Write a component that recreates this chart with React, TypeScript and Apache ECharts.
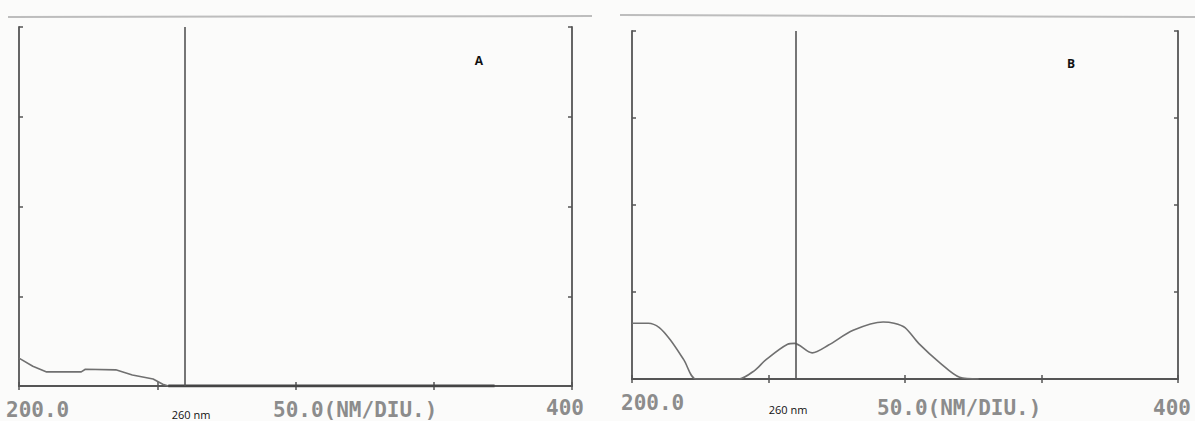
import React, { useEffect, useRef } from "react";
import * as echarts from "echarts";

// Wavelength axis (nm) and absorbance (arbitrary units)
const xTicksNm = [200, 250, 300, 350, 400];
const yDivisions = [0, 1, 2, 3, 4];

// Spectrum A: wavelength, absorbance
const spectrumAWavelength = [200, 205, 210, 222.5, 224, 235, 241, 248.5, 252, 254, 372];
const spectrumAValue = [0.31, 0.22, 0.157, 0.157, 0.187, 0.18, 0.123, 0.078, 0.02, 0, 0];

// Spectrum B: wavelength, absorbance
const spectrumBWavelength = [200, 206, 210, 214, 219, 223.5, 239, 245, 249, 257, 259.5, 266, 272, 281, 292, 296, 300, 305, 313, 320, 327];
const spectrumBValue = [0.64, 0.64, 0.59, 0.45, 0.22, 0, 0, 0.1, 0.22, 0.4, 0.41, 0.3, 0.39, 0.56, 0.655, 0.64, 0.59, 0.41, 0.18, 0.02, 0];

const markerNm = 260;
const panelLabels = ["A", "B"];
const axisStartLabel = "200.0";
const axisScaleLabel = "50.0(NM/DIU.)";
const axisEndLabel = "400";
const markerLabel = "260 nm";

const FRAME = "#555555";
const CURVE = "#707070";
const PRINT = "#8c8c8c";

export default function App() {
  const ref = useRef<HTMLDivElement>(null);
  useEffect(() => {
    if (!ref.current) return;
    const chart = echarts.init(ref.current, null, { renderer: "svg" });
    const grids = [
      { left: 19, top: 27, width: 553, height: 359 },
      { left: 632, top: 31, width: 546, height: 348 },
    ];
    const xAxes: any[] = [];
    const yAxes: any[] = [];
    grids.forEach((_, g) => {
      ["bottom", "top"].forEach((pos) => {
        xAxes.push({
          type: "value",
          gridIndex: g,
          position: pos,
          min: xTicksNm[0],
          max: xTicksNm[xTicksNm.length - 1],
          interval: 50,
          axisLine: { show: true, lineStyle: { color: FRAME, width: 1.8 } },
          axisTick: { show: true, inside: true, length: 4, lineStyle: { color: FRAME, width: 1.5 } },
          axisLabel: { show: false },
          splitLine: { show: false },
        });
      });
      ["left", "right"].forEach((pos) => {
        yAxes.push({
          type: "value",
          gridIndex: g,
          position: pos,
          min: yDivisions[0],
          max: yDivisions[yDivisions.length - 1],
          interval: 1,
          axisLine: { show: true, lineStyle: { color: FRAME, width: 1.8 } },
          axisTick: { show: true, inside: true, length: 4, lineStyle: { color: FRAME, width: 1.5 } },
          axisLabel: { show: false },
          splitLine: { show: false },
        });
      });
    });

    const pairs = (xs: number[], ys: number[]) => xs.map((x, i) => [x, ys[i]]);
    const aPairs = pairs(spectrumAWavelength, spectrumAValue);
    const firstZeroA = spectrumAValue.indexOf(0);

    const mkSeries = (g: number, data: number[][], smooth: number | boolean, width: number, color: string, marker: boolean) => ({
      type: "line",
      xAxisIndex: g * 2,
      yAxisIndex: g * 2,
      data,
      smooth,
      showSymbol: false,
      lineStyle: { color, width },
      markLine: marker
        ? {
            silent: true,
            symbol: "none",
            label: { show: false },
            lineStyle: { color: FRAME, width: 1.6, type: "solid" },
            data: [{ xAxis: markerNm }],
          }
        : undefined,
    });

    const printText = (x: number, y: number, text: string) => ({
      type: "text",
      x,
      y,
      style: {
        text,
        fill: PRINT,
        font: "bold 21px 'DejaVu Sans Mono'",
        textVerticalAlign: "middle",
      },
    });
    const smallText = (x: number, y: number, text: string, size: number, weight = "normal") => ({
      type: "text",
      x,
      y,
      style: {
        text,
        fill: "#111",
        font: `${weight} ${size}px 'Open Sans'`,
        textAlign: "center",
        textVerticalAlign: "middle",
      },
    });

    chart.setOption({
      animation: false,
      backgroundColor: "#fbfbfa",
      grid: grids.map((g) => ({ ...g, containLabel: false })),
      xAxis: xAxes,
      yAxis: yAxes,
      series: [
        mkSeries(0, aPairs.slice(0, firstZeroA + 1), false, 1.6, CURVE, true),
        mkSeries(0, aPairs.slice(firstZeroA), false, 3, "#444444", false),
        mkSeries(1, pairs(spectrumBWavelength, spectrumBValue), 0.3, 1.6, CURVE, true),
      ],
      graphic: [
        { type: "line", shape: { x1: 8, y1: 17, x2: 592, y2: 16 }, style: { stroke: "#bdbdbd", lineWidth: 2 } },
        { type: "line", shape: { x1: 620, y1: 15, x2: 1195, y2: 17 }, style: { stroke: "#bdbdbd", lineWidth: 2 } },
        printText(6, 410, axisStartLabel),
        printText(273, 410, axisScaleLabel),
        printText(546, 408, axisEndLabel),
        printText(621, 403, axisStartLabel),
        printText(877, 408, axisScaleLabel),
        printText(1153, 408, axisEndLabel),
        smallText(191, 414, markerLabel, 11),
        smallText(788, 409, markerLabel, 11),
        smallText(479, 60, panelLabels[0], 12, "bold"),
        smallText(1071, 63, panelLabels[1], 12, "bold"),
      ],
    });
    return () => chart.dispose();
  }, []);
  return (
    <div
      ref={ref}
      style={{ position: "fixed", left: 0, top: 0, width: 1195, height: 421 }}
    />
  );
}
